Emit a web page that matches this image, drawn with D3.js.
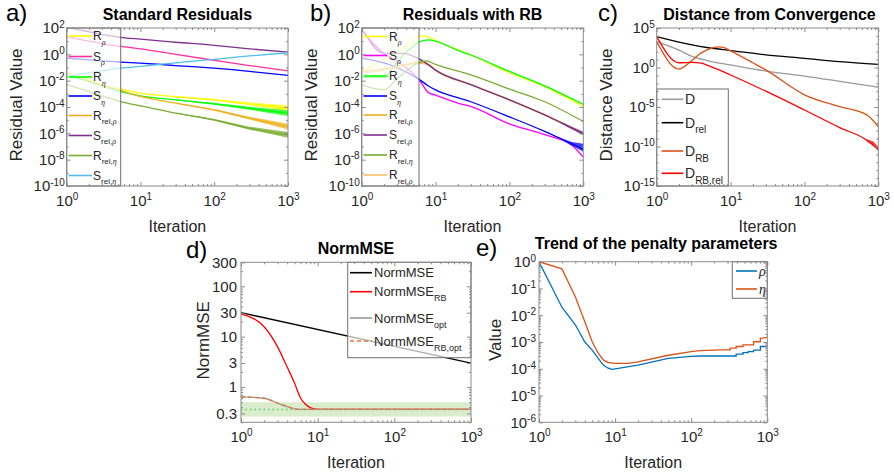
<!DOCTYPE html>
<html>
<head>
<meta charset="utf-8">
<script src="https://cdn.jsdelivr.net/npm/d3@7"></script>
<style>
  body { margin: 0; background: #fff; }
  text { font-family: "Liberation Sans", Arial, sans-serif; }
</style>
</head>
<body>
<script>
// ---------- data ----------
// a) Standard residuals: [iteration, value]
const aRrho    = [[1,3.3e-2],[2,1.2e-2],[3,5.0e-3],[5.4,2.3e-3],[10,1.12e-3],[30,6.0e-4],[100,3.5e-4],[300,1.74e-4],[1000,8.1e-5]];
const aSrho    = [[1,22.4],[2,10],[3,6.6],[5.4,4.0],[10,2.6],[30,1.0],[100,0.355],[300,0.141],[1000,0.056]];
const aReta    = [[1,2.3e-2],[2,8.7e-3],[3,4.0e-3],[5.4,1.5e-3],[10,7.1e-4],[30,3.5e-4],[100,1.74e-4],[300,8.1e-5],[1000,3.4e-5]];
const aSeta    = [[1,0.525],[2,0.38],[3,0.316],[5.4,0.257],[10,0.214],[30,0.141],[100,0.089],[300,0.050],[1000,0.025]];
const aRrelRho = [[1,3.7e-2],[2,1.0e-2],[3,4.5e-3],[5.4,1.8e-3],[10,6.3e-4],[30,1.95e-4],[100,6.0e-5],[300,1.4e-5],[1000,3.2e-6]];
const aSrelRho = [[1,112],[2,52],[3,33],[5.4,19.5],[10,14.1],[30,8.3],[100,4.8],[300,2.6],[1000,1.48]];
const aRrelEta = [[1,4.9e-3],[2,1.5e-3],[3,7.1e-4],[5.4,2.6e-4],[10,1.23e-4],[30,3.4e-5],[100,1.05e-5],[300,2.45e-6],[1000,7.6e-7]];
const aSrelEta = [[1,0.020],[2,0.040],[3,0.056],[5.4,0.089],[10,0.12],[30,0.224],[100,0.417],[300,0.76],[1000,1.32]];
// noisy tails: [iteration, low, high]
const aRrhoNoise    = [[30,5.6e-4,6.5e-4],[100,2.95e-4,4.1e-4],[300,1.35e-4,2.24e-4],[1000,4.9e-5,1.35e-4]];
const aRetaNoise    = [[30,3.2e-4,3.7e-4],[100,1.48e-4,2.04e-4],[300,6.3e-5,1.05e-4],[1000,2.04e-5,5.6e-5]];
const aRrelRhoNoise = [[30,1.82e-4,2.1e-4],[100,5.1e-5,7.1e-5],[300,1.1e-5,1.82e-5],[1000,1.95e-6,5.4e-6]];
const aRrelEtaNoise = [[30,3.2e-5,3.7e-5],[100,8.9e-6,1.23e-5],[300,1.91e-6,3.2e-6],[1000,4.6e-7,1.26e-6]];

// b) Residuals with RB
const bRrho    = [[1,0.05],[2,0.37],[3,1.41],[4,4.5],[5,10],[6.5,25],[8,20],[10,11.2],[20,2.24],[30,0.89],[100,0.040],[300,3.5e-3],[1000,1.1e-4]];
const bSrho    = [[1,70.8],[2,1.12],[3,0.316],[4,0.1],[6,0.0117],[8,1.26e-3],[10,7.9e-4],[20,2.0e-4],[30,1.1e-4],[100,5.2e-6],[300,7.9e-7],[700,1.26e-7],[1000,1.58e-8]];
const bReta    = [[1,0.0178],[2,0.0178],[3,0.25],[4,1.41],[5,4.0],[6,8.9],[8,12.6],[10,10],[20,2.0],[30,0.89],[100,0.050],[300,4.0e-3],[1000,1.58e-4]];
const bSeta    = [[1,0.525],[2,0.224],[3,0.1],[6,0.0126],[8,3.98e-3],[10,2.0e-3],[30,2.5e-4],[100,1.78e-5],[300,1.41e-6],[1000,6.3e-8]];
const bRrelRho = [[1,0.05],[2,0.079],[3,0.126],[5,0.224],[6.5,0.282],[8,0.178],[10,0.063],[30,5.0e-3],[100,3.5e-4],[300,2.5e-5],[1000,1.0e-6]];
const bSrelRho = [[1,95],[2,1.2],[3.6,1.2],[6,0.447],[8,0.158],[10,0.063],[30,5.0e-3],[100,3.5e-4],[300,2.5e-5],[1000,8.9e-7]];
const bRrelEta = [[1,4.7e-3],[2,2.0e-3],[3,0.0141],[4,0.05],[5,0.141],[6,0.224],[7.5,0.316],[10,0.17],[30,0.028],[100,2.3e-3],[300,2.5e-4],[1000,7.9e-6]];
const bRrelRho2 = [[1,0.036],[3,0.09],[6,0.21],[8,0.17],[10,0.063],[30,5.0e-3],[100,3.5e-4],[300,2.5e-5],[1000,1.0e-6]];
const bSetaNoise    = [[500,3.4e-7,4.3e-7],[700,1.2e-7,2.2e-7],[1000,4.0e-8,1.6e-7]];
const bSrelRhoNoise = [[500,5.5e-6,7.2e-6],[700,2.0e-6,3.2e-6],[1000,7.0e-7,1.3e-6]];

// c) Distance from convergence
const cD      = [[1,1860],[2,158],[3,25],[5,7.1],[10,2.1],[30,0.355],[100,0.083],[300,0.0178],[1000,3.16e-3]];
const cDrel   = [[1,7940],[2,1580],[3,710],[5,316],[10,141],[30,40],[100,14.5],[300,5.6],[1000,2.5]];
const cDRB    = [[1,1860],[2,0.63],[3,7.9],[4,71],[5,200],[7,400],[8,355],[10,126],[20,4.0],[30,0.5],[100,3.5e-4],[300,1.1e-5],[700,1.0e-6],[1000,3.16e-8]];
const cDRBrel = [[1,7940],[2,4.0],[3,4.5],[4,3.55],[5,1.78],[10,0.112],[30,1.0e-3],[100,4.2e-6],[300,2.5e-8],[700,6.3e-10],[1000,4.0e-11]];
const cDRBrelNoise = [[700,4.0e-10,8.0e-10],[850,1.6e-10,4.5e-10],[1000,3.5e-11,9.0e-11]];

// d) NormMSE
const dNorm     = [[1,30],[1000,3.0]];
const dNormRB   = [[1,28],[2,15.8],[3,6.3],[4,2.5],[5,1.19],[6,0.6],[7,0.45],[8,0.39],[10,0.36],[1000,0.36]];
const dNormOpt  = [[1,0.64],[2,0.6],[3,0.48],[4,0.41],[5,0.37],[6,0.36],[1000,0.36]];
const dNormRBOpt = [[1,0.64],[2,0.6],[3,0.48],[4,0.41],[5,0.37],[6,0.36],[1000,0.36]];
const dTargetBand = [0.26, 0.5];
const dTarget = 0.36;

// e) Penalty parameters
const eRho = [[1,1],[2,0.02],[3,4.4e-3],[4,1.0e-3],[5,5.0e-4],[6,2.45e-4],[7,1.38e-4],[8,1.07e-4],[9,9.5e-5],[10,1.0e-4],[20,1.38e-4],[50,2.45e-4],[100,2.9e-4],[131,3.0e-4],[390,3.0e-4],[390,3.55e-4],[480,3.55e-4],[480,4.0e-4],[560,4.0e-4],[560,4.4e-4],[660,4.4e-4],[660,5.0e-4],[810,5.0e-4],[810,6.8e-4],[1000,6.8e-4]];
const eEta = [[1,1],[2,0.54],[3,0.049],[4,5.75e-3],[5,1.02e-3],[6,3.8e-4],[7,2.14e-4],[8,1.74e-4],[10,1.58e-4],[15,1.58e-4],[20,1.82e-4],[50,3.2e-4],[100,4.4e-4],[131,4.8e-4],[240,5.1e-4],[325,5.1e-4],[325,5.9e-4],[390,5.9e-4],[390,6.8e-4],[480,6.8e-4],[480,7.8e-4],[660,7.8e-4],[660,1.02e-3],[810,1.02e-3],[810,1.38e-3],[1000,1.48e-3]];

// tick values
const xMajor = [1, 10, 100, 1000];
const xMinor = [2,3,4,5,6,7,8,9,20,30,40,50,60,70,80,90,200,300,400,500,600,700,800,900];
const abMajorY = [1e-10,1e-8,1e-6,1e-4,1e-2,1,1e2];
const abMinorY = [1e-9,1e-7,1e-5,1e-3,1e-1,1e1];
const cMajorY = [1e-15,1e-10,1e-5,1,1e5];
const cMinorY = [1e-14,1e-13,1e-12,1e-11,1e-9,1e-8,1e-7,1e-6,1e-4,1e-3,1e-2,1e-1,1e1,1e2,1e3,1e4];
const dMajorY = [0.3,1,3,10,30,100,300];
const dMinorY = [0.2,0.4,0.5,0.6,0.7,0.8,0.9,2,4,5,6,7,8,9,20,40,50,60,70,80,90,200];
const eMajorY = [1e-6,1e-5,1e-4,1e-3,1e-2,1e-1,1];

// ---------- drawing ----------
const W = 894, H = 473;
const AX = "#8a8a8a", TXT = "#262626";
const svg = d3.select("body").append("svg").attr("width", W).attr("height", H);
const defs = svg.append("defs");

function expLabel(sel, d) {
  const e = Math.round(Math.log10(d));
  sel.text(null);
  sel.append("tspan").text("10");
  sel.append("tspan").attr("dy", "-0.55em").attr("font-size", "10px").text(e);
}

function makePanel(o) {
  const x = d3.scaleLog().domain([1, 1000]).range([o.left, o.right]);
  const y = d3.scaleLog().domain(o.yDomain).range([o.bottom, o.top]);
  const g = svg.append("g");
  const id = "clip-" + o.key;
  defs.append("clipPath").attr("id", id).append("rect")
    .attr("x", o.left).attr("y", o.top)
    .attr("width", o.right - o.left).attr("height", o.bottom - o.top);
  const plot = g.append("g").attr("clip-path", `url(#${id})`);
  return { x, y, g, plot, o };
}

function drawLine(p, data, color, opts = {}) {
  const line = d3.line().x(d => p.x(d[0])).y(d => p.y(d[1]))
    .curve(opts.curve || d3.curveMonotoneX);
  p.plot.append("path").datum(data).attr("d", line)
    .attr("fill", "none").attr("stroke", color)
    .attr("stroke-width", opts.width || 1.3)
    .attr("stroke-dasharray", opts.dash || null);
}

function drawNoise(p, data, color) {
  const area = d3.area().x(d => p.x(d[0])).y0(d => p.y(d[1])).y1(d => p.y(d[2]));
  p.plot.append("path").datum(data).attr("d", area)
    .attr("fill", color).attr("fill-opacity", 0.75);
}

function drawAxes(p, yMajor, yMinor, yFmt, yPad) {
  const o = p.o, g = p.g;
  const styleAxis = sel => {
    sel.select(".domain").remove();
    sel.selectAll(".tick line").attr("stroke", AX);
    sel.selectAll(".tick text").attr("fill", TXT).attr("font-size", "15px")
      .attr("font-family", '"Liberation Sans", Arial, sans-serif');
  };
  // bottom
  const xb = g.append("g").attr("transform", `translate(0,${o.bottom})`)
    .call(d3.axisBottom(p.x).tickValues(xMajor).tickSizeInner(-4).tickSizeOuter(0).tickPadding(9));
  styleAxis(xb);
  xb.selectAll(".tick text").each(function (d) { expLabel(d3.select(this), d); });
  const xbm = g.append("g").attr("transform", `translate(0,${o.bottom})`)
    .call(d3.axisBottom(p.x).tickValues(xMinor).tickSize(-2).tickFormat(""));
  styleAxis(xbm);
  // top
  const xt = g.append("g").attr("transform", `translate(0,${o.top})`)
    .call(d3.axisTop(p.x).tickValues(xMajor).tickSize(-4).tickFormat(""));
  styleAxis(xt);
  const xtm = g.append("g").attr("transform", `translate(0,${o.top})`)
    .call(d3.axisTop(p.x).tickValues(xMinor).tickSize(-2).tickFormat(""));
  styleAxis(xtm);
  // left
  const yl = g.append("g").attr("transform", `translate(${o.left},0)`)
    .call(d3.axisLeft(p.y).tickValues(yMajor).tickSizeInner(-4).tickSizeOuter(0).tickPadding(yPad)
      .tickFormat(yFmt === "exp" ? d => "" : yFmt));
  styleAxis(yl);
  if (yFmt === "exp") yl.selectAll(".tick text").each(function (d) { expLabel(d3.select(this), d); });
  const ylm = g.append("g").attr("transform", `translate(${o.left},0)`)
    .call(d3.axisLeft(p.y).tickValues(yMinor).tickSize(-2).tickFormat(""));
  styleAxis(ylm);
  // right
  const yr = g.append("g").attr("transform", `translate(${o.right},0)`)
    .call(d3.axisRight(p.y).tickValues(yMajor).tickSize(-4).tickFormat(""));
  styleAxis(yr);
  const yrm = g.append("g").attr("transform", `translate(${o.right},0)`)
    .call(d3.axisRight(p.y).tickValues(yMinor).tickSize(-2).tickFormat(""));
  styleAxis(yrm);
  // box
  g.append("rect").attr("x", o.left).attr("y", o.top)
    .attr("width", o.right - o.left).attr("height", o.bottom - o.top)
    .attr("fill", "none").attr("stroke", AX).attr("stroke-width", 1);
}

function labels(p, title, xLab, yLab, letter) {
  const o = p.o, g = p.g;
  const cx = (o.left + o.right) / 2;
  g.append("text").attr("x", cx + (o.titleDx || 0)).attr("y", o.top - (o.titleUp || 14)).attr("dy", "0.35em")
    .attr("text-anchor", "middle").attr("font-weight", "bold").attr("font-size", "16px")
    .attr("fill", "#000").text(title);
  g.append("text").attr("x", cx).attr("y", o.bottom + 40).attr("dy", "0.35em")
    .attr("text-anchor", "middle").attr("font-size", "16px").attr("fill", TXT).text(xLab);
  g.append("text").attr("transform", `translate(${o.yLabX},${(o.top + o.bottom) / 2 - 2}) rotate(-90)`)
    .attr("dy", "0.35em").attr("text-anchor", "middle").attr("font-size", "17px")
    .attr("fill", TXT).text(yLab);
  g.append("text").attr("x", letter.x).attr("y", letter.y).attr("font-size", "24px")
    .attr("fill", "#000").text(letter.t);
}

function addLabelText(t, main, sub, mainItalic, subSize) {
  const greek = /[ρη]/;
  const m = t.append("tspan").text(main);
  if (mainItalic) m.attr("font-family", '"Liberation Serif", "DejaVu Serif", serif').attr("font-style", "italic");
  if (sub) {
    const parts = sub.split(/([ρη])/).filter(s => s.length);
    parts.forEach((s, i) => {
      const sp = t.append("tspan").attr("font-size", subSize + "px").text(s);
      if (i === 0) sp.attr("dy", "0.55em");
      if (greek.test(s)) sp.attr("font-family", '"Liberation Serif", "DejaVu Serif", serif').attr("font-style", "italic");
    });
  }
}

function legend(p, box, items, lx1, lx2, tx, fs, subFs) {
  const lg = p.g.append("g");
  lg.append("rect").attr("x", box[0]).attr("y", box[1])
    .attr("width", box[2] - box[0]).attr("height", box[3] - box[1])
    .attr("fill", "#fff").attr("fill-opacity", 0.68)
    .attr("stroke", "#6e6e6e").attr("stroke-width", 1);
  items.forEach(it => {
    lg.append("line").attr("x1", lx1).attr("x2", lx2).attr("y1", it.y).attr("y2", it.y)
      .attr("stroke", it.color).attr("stroke-width", 1.6).attr("stroke-dasharray", it.dash || null);
    const t = lg.append("text").attr("x", tx).attr("y", it.y).attr("dy", "0.36em")
      .attr("font-size", fs + "px").attr("fill", TXT);
    addLabelText(t, it.main, it.sub, it.italic, subFs);
  });
}

// ===== panel a =====
const colA = { Rrho: "#ffff00", Srho: "#ff2f9c", Reta: "#00ff00", Seta: "#0000ff",
  RrelRho: "#edb120", SrelRho: "#7e2f8e", RrelEta: "#77ac30", SrelEta: "#4dbeee" };
const pa = makePanel({ key: "a", left: 66.7, right: 288, top: 28, bottom: 186, yDomain: [1e-10, 1e2], yLabX: 16.5 });
drawLine(pa, aRrho, colA.Rrho);      drawNoise(pa, aRrhoNoise, colA.Rrho);
drawLine(pa, aSrho, colA.Srho);
drawLine(pa, aReta, colA.Reta);      drawNoise(pa, aRetaNoise, colA.Reta);
drawLine(pa, aSeta, colA.Seta);
drawLine(pa, aRrelRho, colA.RrelRho); drawNoise(pa, aRrelRhoNoise, colA.RrelRho);
drawLine(pa, aSrelRho, colA.SrelRho);
drawLine(pa, aRrelEta, colA.RrelEta); drawNoise(pa, aRrelEtaNoise, colA.RrelEta);
drawLine(pa, aSrelEta, colA.SrelEta);
const legYs = [36, 56.5, 77, 96, 115.5, 135.5, 155.5, 175.5];
legend(pa, [66.7, 28, 120.7, 186], [
  { main: "R", sub: "ρ", color: colA.Rrho }, { main: "S", sub: "ρ", color: colA.Srho },
  { main: "R", sub: "η", color: colA.Reta }, { main: "S", sub: "η", color: colA.Seta },
  { main: "R", sub: "rel,ρ", color: colA.RrelRho }, { main: "S", sub: "rel,ρ", color: colA.SrelRho },
  { main: "R", sub: "rel,η", color: colA.RrelEta }, { main: "S", sub: "rel,η", color: colA.SrelEta }
].map((d, i) => ({ ...d, y: legYs[i] })), 68.5, 92, 93, 12, 8);
drawAxes(pa, abMajorY, abMinorY, "exp", 2);
labels(pa, "Standard Residuals", "Iteration", "Residual Value", { t: "a)", x: 6, y: 21 });

// ===== panel b =====
const colB = { Rrho: "#ffff00", Srho: "#ff00ff", Reta: "#00ff00", Seta: "#0000ff",
  RrelRho: "#edb120", SrelRho: "#7e2f8e", RrelEta: "#77ac30", RrelRho2: "#f8c068" };
const pb = makePanel({ key: "b", left: 361.7, right: 583.3, top: 28, bottom: 186, yDomain: [1e-10, 1e2], yLabX: 311.5 });
drawLine(pb, bRrho, colB.Rrho);
drawLine(pb, bSrho, colB.Srho);
drawLine(pb, bReta, colB.Reta);
drawLine(pb, bSeta, colB.Seta);      drawNoise(pb, bSetaNoise, colB.Seta);
drawLine(pb, bRrelRho2, colB.RrelRho2);
drawLine(pb, bRrelRho, colB.RrelRho);
drawLine(pb, bSrelRho, colB.SrelRho); drawNoise(pb, bSrelRhoNoise, colB.SrelRho);
drawLine(pb, bRrelEta, colB.RrelEta);
const legYsB = [36.5, 55.5, 76, 96, 115, 135, 155, 175];
legend(pb, [361.7, 28, 419, 186], [
  { main: "R", sub: "ρ", color: colB.Rrho }, { main: "S", sub: "ρ", color: colB.Srho },
  { main: "R", sub: "η", color: colB.Reta }, { main: "S", sub: "η", color: colB.Seta },
  { main: "R", sub: "rel,ρ", color: colB.RrelRho }, { main: "S", sub: "rel,ρ", color: colB.SrelRho },
  { main: "R", sub: "rel,η", color: colB.RrelEta }, { main: "R", sub: "rel,ρ", color: colB.RrelRho2 }
].map((d, i) => ({ ...d, y: legYsB[i] })), 363.5, 387, 389, 12, 8);
drawAxes(pb, abMajorY, abMinorY, "exp", 2);
labels(pb, "Residuals with RB", "Iteration", "Residual Value", { t: "b)", x: 310, y: 21 });

// ===== panel c =====
const colC = { D: "#9a9a9a", Drel: "#000000", DRB: "#d95319", DRBrel: "#ff0000" };
const pc = makePanel({ key: "c", left: 656.7, right: 878.3, top: 28, bottom: 186, yDomain: [1e-15, 1e5], yLabX: 606.5, titleDx: 2 });
drawLine(pc, cD, colC.D);
drawLine(pc, cDrel, colC.Drel);
drawLine(pc, cDRB, colC.DRB);
drawLine(pc, cDRBrel, colC.DRBrel); drawNoise(pc, cDRBrelNoise, colC.DRBrel);
const legYsC = [99.3, 122.7, 151, 173.3];
legend(pc, [656.7, 89, 728.3, 186], [
  { main: "D", color: colC.D }, { main: "D", sub: "rel", color: colC.Drel },
  { main: "D", sub: "RB", color: colC.DRB }, { main: "D", sub: "RB,rel", color: colC.DRBrel }
].map((d, i) => ({ ...d, y: legYsC[i] })), 661.7, 683.3, 685, 14, 10);
drawAxes(pc, cMajorY, cMinorY, "exp", 2);
labels(pc, "Distance from Convergence", "Iteration", "Distance Value", { t: "c)", x: 598, y: 21 });

// ===== panel d =====
const colD = { N: "#000000", NRB: "#ff0000", NOpt: "#9a9a9a", NRBOpt: "#e8743b", target: "#4fd16e" };
const pd = makePanel({ key: "d", left: 241, right: 471, top: 262.3, bottom: 422.3, yDomain: [0.2, 300], yLabX: 203 });
pd.plot.append("rect").attr("x", pd.x(1)).attr("width", pd.x(1000) - pd.x(1))
  .attr("y", pd.y(dTargetBand[1])).attr("height", pd.y(dTargetBand[0]) - pd.y(dTargetBand[1]))
  .attr("fill", "#93c86a").attr("fill-opacity", 0.35);
pd.plot.append("line").attr("x1", pd.x(1)).attr("x2", pd.x(1000))
  .attr("y1", pd.y(dTarget)).attr("y2", pd.y(dTarget))
  .attr("stroke", colD.target).attr("stroke-width", 1.6).attr("stroke-dasharray", "1.5,3");
drawLine(pd, dNorm, colD.N, { curve: d3.curveLinear });
drawLine(pd, dNormRB, colD.NRB);
drawLine(pd, dNormOpt, colD.NOpt);
drawLine(pd, dNormRBOpt, colD.NRBOpt, { dash: "4,3" });
const legYsD = [272.7, 291.7, 318, 341];
legend(pd, [347.7, 262.3, 471, 357.7], [
  { main: "NormMSE", color: colD.N }, { main: "NormMSE", sub: "RB", color: colD.NRB },
  { main: "NormMSE", sub: "opt", color: colD.NOpt }, { main: "NormMSE", sub: "RB,opt", color: colD.NRBOpt, dash: "4,3" }
].map((d, i) => ({ ...d, y: legYsD[i] })), 350, 372, 374, 13, 9);
drawAxes(pd, dMajorY, dMinorY, d => String(d), 4);
labels(pd, "NormMSE", "Iteration", "NormMSE", { t: "d)", x: 186, y: 258 });

// ===== panel e =====
const colE = { rho: "#0072bd", eta: "#d95319" };
const pe = makePanel({ key: "e", left: 539, right: 767.3, top: 261.7, bottom: 422.3, yDomain: [1e-6, 1], yLabX: 495, titleUp: 18, titleDx: 3 });
drawLine(pe, eRho, colE.rho, { curve: d3.curveLinear });
drawLine(pe, eEta, colE.eta, { curve: d3.curveLinear });
legend(pe, [732.3, 261.7, 767.3, 298.3], [
  { main: "ρ", italic: true, color: colE.rho, y: 271 },
  { main: "η", italic: true, color: colE.eta, y: 289 }
], 736, 757, 759, 14, 9);
const eMinorY = [];
eMajorY.slice(0, -1).forEach(v => [2,3,4,5,6,7,8,9].forEach(k => eMinorY.push(v * k)));
drawAxes(pe, eMajorY, eMinorY, "exp", 3);
labels(pe, "Trend of the penalty parameters", "Iteration", "Value", { t: "e)", x: 476, y: 256 });
</script>
</body>
</html>
